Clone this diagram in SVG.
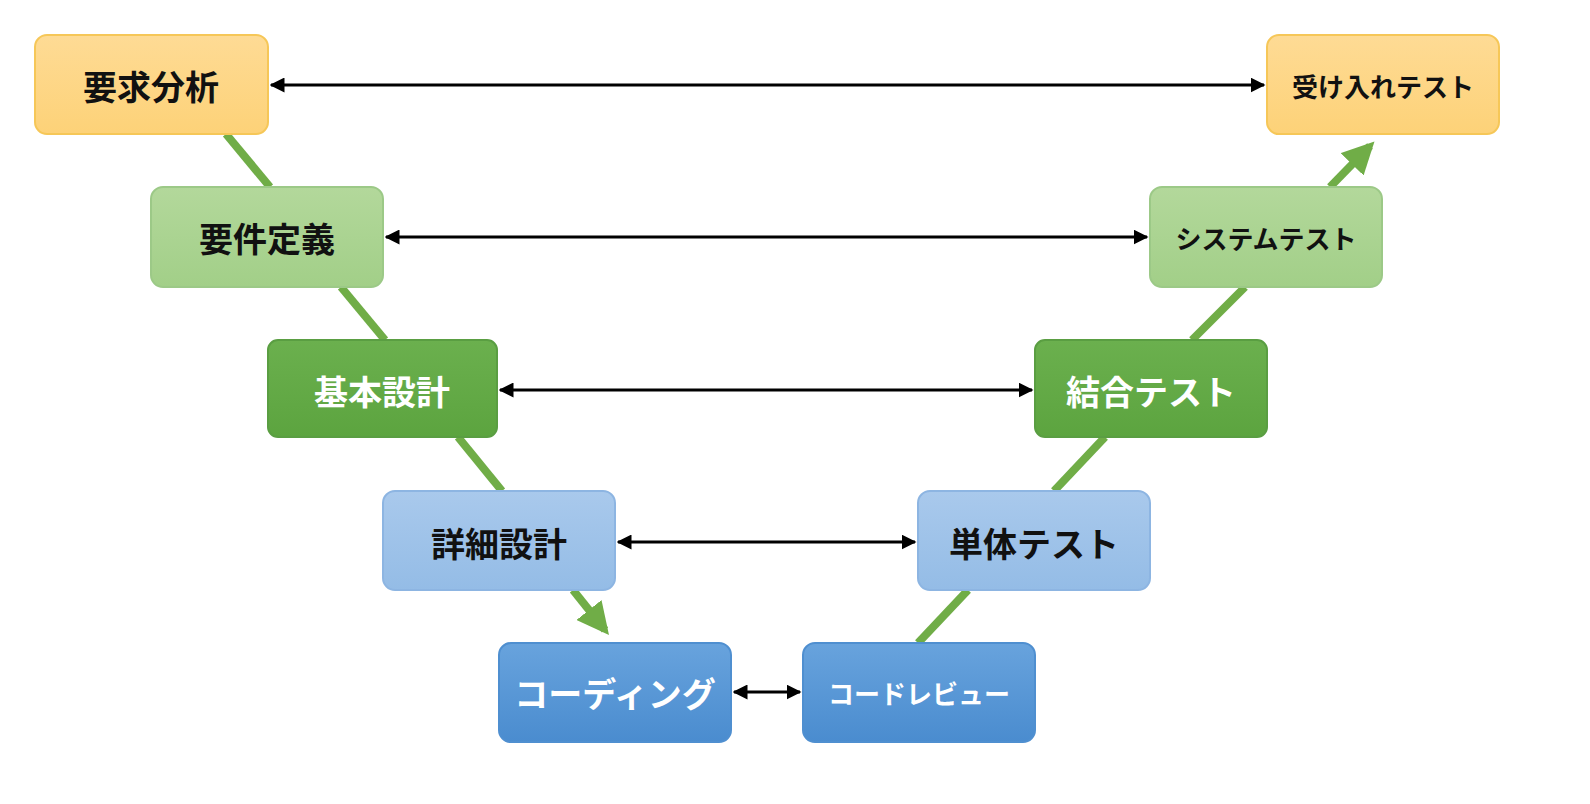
<svg xmlns="http://www.w3.org/2000/svg" width="1590" height="804" viewBox="0 0 1590 804">
<defs>
<linearGradient id="gO" x1="0" y1="0" x2="0" y2="1"><stop offset="0" stop-color="#fedb95"/><stop offset="1" stop-color="#fdd278"/></linearGradient>
<linearGradient id="gLG" x1="0" y1="0" x2="0" y2="1"><stop offset="0" stop-color="#b3d89b"/><stop offset="1" stop-color="#a2cf88"/></linearGradient>
<linearGradient id="gG" x1="0" y1="0" x2="0" y2="1"><stop offset="0" stop-color="#6bb04e"/><stop offset="1" stop-color="#5ca43f"/></linearGradient>
<linearGradient id="gLB" x1="0" y1="0" x2="0" y2="1"><stop offset="0" stop-color="#a9c9ec"/><stop offset="1" stop-color="#94bce6"/></linearGradient>
<linearGradient id="gB" x1="0" y1="0" x2="0" y2="1"><stop offset="0" stop-color="#68a3dd"/><stop offset="1" stop-color="#4a8ccf"/></linearGradient>
<marker id="ah" viewBox="0 0 10 10" refX="9" refY="5" markerWidth="5" markerHeight="5" orient="auto-start-reverse"><path d="M0,0 L10,5 L0,10 z" fill="#000"/></marker>
<marker id="gh" viewBox="0 0 10 10" refX="8" refY="5" markerWidth="4" markerHeight="4" orient="auto"><path d="M0,0 L10,5 L0,10 z" fill="#70ad47"/></marker>
</defs>
<style>
rect{stroke-width:2}
.o{fill:url(#gO);stroke:#f6c758}
.lg{fill:url(#gLG);stroke:#9cc987}
.g{fill:url(#gG);stroke:#5a9e42}
.lb{fill:url(#gLB);stroke:#8db5e2}
.b{fill:url(#gB);stroke:#4f8fd0}
text{font-family:"Noto Sans CJK JP","Noto Sans",sans-serif;font-weight:bold;font-size:34px;text-anchor:middle;dominant-baseline:central}
.w{fill:#fff}.k{fill:#111}
.sm{font-size:26px}
.gl{stroke:#70ad47;stroke-width:8;fill:none}
.bl{stroke:#000;stroke-width:3;marker-start:url(#ah);marker-end:url(#ah)}
</style>
<rect width="1590" height="804" fill="#fff"/>
<g id="connectors">
<line class="gl" x1="226" y1="134" x2="270" y2="187"/>
<line class="gl" x1="341" y1="287" x2="385" y2="340"/>
<line class="gl" x1="458" y1="437" x2="502" y2="491"/>
<line class="gl" x1="573" y1="590" x2="605" y2="630" marker-end="url(#gh)"/>
<line class="gl" x1="918" y1="643" x2="968" y2="590"/>
<line class="gl" x1="1054" y1="491" x2="1105" y2="437"/>
<line class="gl" x1="1192" y1="340" x2="1245" y2="287"/>
<line class="gl" x1="1330" y1="187" x2="1370" y2="146" marker-end="url(#gh)"/>
<line class="bl" x1="271" y1="85" x2="1264" y2="85"/>
<line class="bl" x1="386" y1="237" x2="1147" y2="237"/>
<line class="bl" x1="500" y1="390" x2="1032" y2="390"/>
<line class="bl" x1="618" y1="542" x2="915" y2="542"/>
<line class="bl" x1="734" y1="692" x2="800" y2="692"/>
</g>
<g id="n1"><rect class="o" x="35" y="35" width="233" height="99" rx="12"/><text class="k" x="151" y="85">要求分析</text></g>
<g id="n2"><rect class="o" x="1267" y="35" width="232" height="99" rx="12"/><text class="k sm" x="1383" y="85">受け入れテスト</text></g>
<g id="n3"><rect class="lg" x="151" y="187" width="232" height="100" rx="12"/><text class="k" x="267" y="237">要件定義</text></g>
<g id="n4"><rect class="lg" x="1150" y="187" width="232" height="100" rx="12"/><text class="k sm" x="1266" y="237">システムテスト</text></g>
<g id="n5"><rect class="g" x="268" y="340" width="229" height="97" rx="10"/><text class="w" x="382" y="390">基本設計</text></g>
<g id="n6"><rect class="g" x="1035" y="340" width="232" height="97" rx="10"/><text class="w" x="1151" y="390">結合テスト</text></g>
<g id="n7"><rect class="lb" x="383" y="491" width="232" height="99" rx="12"/><text class="k" x="499" y="542">詳細設計</text></g>
<g id="n8"><rect class="lb" x="918" y="491" width="232" height="99" rx="12"/><text class="k" x="1034" y="542">単体テスト</text></g>
<g id="n9"><rect class="b" x="499" y="643" width="232" height="99" rx="12"/><text class="w" x="615" y="692">コーディング</text></g>
<g id="n10"><rect class="b" x="803" y="643" width="232" height="99" rx="12"/><text class="w sm" x="919" y="692">コードレビュー</text></g>
</svg>
